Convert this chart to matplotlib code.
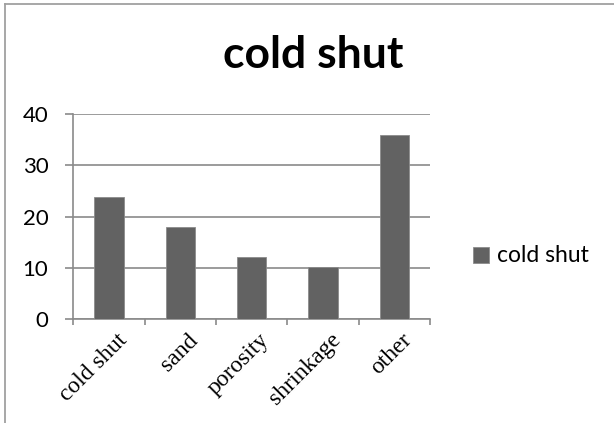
import matplotlib
matplotlib.use("Agg")
import matplotlib.pyplot as plt
from matplotlib.patches import Rectangle
from matplotlib.lines import Line2D

categories = ["cold shut", "sand", "porosity", "shrinkage", "other"]
values = [23.8, 18.0, 12.2, 10.2, 35.9]
series_name = "cold shut"
yticks = [0, 10, 20, 30, 40]

W, H = 614, 423
fig = plt.figure(figsize=(W / 100, H / 100), dpi=100)

# chart frame (left and top edges visible)
fig.add_artist(Line2D([5 / W, 5 / W], [0, 1 - 4 / H], transform=fig.transFigure,
                      color="#a0a0a0", lw=1.3))
fig.add_artist(Line2D([5 / W, 1], [1 - 4 / H, 1 - 4 / H], transform=fig.transFigure,
                      color="#a0a0a0", lw=1.3))

ax = fig.add_axes([73.3 / W, 1 - 319.3 / H, (430 - 73.3) / W, (319.3 - 114) / H])

bar_color = "#626262"
x = list(range(len(categories)))
ax.bar(x, values, width=0.41, color=bar_color, edgecolor="#8c8c8c", linewidth=0.6,
       zorder=3)

ax.set_xlim(-0.5, len(categories) - 0.5)
ax.set_ylim(0, 40)
ax.set_yticks(yticks)
ax.yaxis.grid(True, color="#8a8a8a", linewidth=1.2, zorder=0)
ax.set_axisbelow(True)

for s in ["top", "right"]:
    ax.spines[s].set_visible(False)
for s in ["left", "bottom"]:
    ax.spines[s].set_color("#8a8a8a")
    ax.spines[s].set_linewidth(1.2)

# category boundary ticks on the x axis
ax.set_xticks([i - 0.5 for i in range(len(categories) + 1)], minor=False)
ax.set_xticklabels([])
ax.tick_params(axis="x", which="major", length=4, width=1.2, color="#8a8a8a", direction="out")
ax.tick_params(axis="y", length=6, width=1.2, color="#8a8a8a", direction="out", pad=12,
               labelsize=16)
for lab in ax.get_yticklabels():
    lab.set_fontfamily("Lato")

# rotated category labels, anchored at the top-right near each category center
for i, c in enumerate(categories):
    ax.text(i + 0.1, -2.0, c, rotation=45, ha="right", va="top",
            rotation_mode="anchor", fontsize=17, family="Liberation Serif",
            transform=ax.transData)

fig.text(313 / W, 1 - 55 / H, "cold shut", ha="center", va="center",
         fontsize=32, fontweight="bold", family="Lato")

# legend
fig.add_artist(Rectangle((473 / W, 1 - 263 / H), 16 / W, 16 / H,
                         transform=fig.transFigure, facecolor=bar_color,
                         edgecolor="#8c8c8c", linewidth=0.6))
fig.text(497 / W, 1 - 256 / H, series_name, ha="left", va="center",
         fontsize=16.5, family="Lato")

fig.savefig("out.png", dpi=100)
